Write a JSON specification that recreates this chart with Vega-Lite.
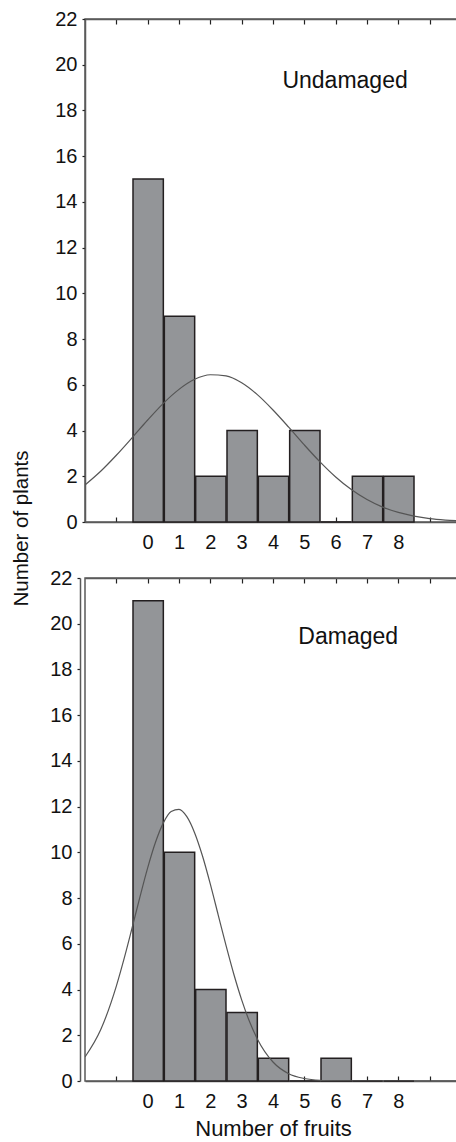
{
  "$schema": "https://vega.github.io/schema/vega-lite/v6.json",
  "padding": {"left": 10, "top": 8, "right": 0, "bottom": 0},
  "spacing": 56,
  "bounds": "flush",
  "config": {
    "font": "Liberation Sans",
    "view": {"stroke": "#5a5a5a", "strokeWidth": 1.5},
    "axis": {
      "grid": false,
      "domainColor": "#5a5a5a",
      "domainWidth": 1.5,
      "tickColor": "#222222",
      "tickWidth": 1.2,
      "labelFont": "Liberation Sans",
      "labelFontSize": 20,
      "labelColor": "#111111",
      "titleFont": "Liberation Sans",
      "titleFontSize": 21,
      "titleFontWeight": "normal",
      "titleColor": "#111111"
    }
  },
  "datasets": {
    "undamaged": [
      {"lo": -0.5, "hi": 0.5, "n": 15},
      {"lo": 0.5, "hi": 1.5, "n": 9},
      {"lo": 1.5, "hi": 2.5, "n": 2},
      {"lo": 2.5, "hi": 3.5, "n": 4},
      {"lo": 3.5, "hi": 4.5, "n": 2},
      {"lo": 4.5, "hi": 5.5, "n": 4},
      {"lo": 5.5, "hi": 6.5, "n": 0},
      {"lo": 6.5, "hi": 7.5, "n": 2},
      {"lo": 7.5, "hi": 8.5, "n": 2}
    ],
    "damaged": [
      {"lo": -0.5, "hi": 0.5, "n": 21},
      {"lo": 0.5, "hi": 1.5, "n": 10},
      {"lo": 1.5, "hi": 2.5, "n": 4},
      {"lo": 2.5, "hi": 3.5, "n": 3},
      {"lo": 3.5, "hi": 4.5, "n": 1},
      {"lo": 4.5, "hi": 5.5, "n": 0},
      {"lo": 5.5, "hi": 6.5, "n": 1},
      {"lo": 6.5, "hi": 7.5, "n": 0},
      {"lo": 7.5, "hi": 8.5, "n": 0}
    ],
    "curveU": [
      {"x": -2, "y": 1.62}, {"x": -1.5, "y": 2.22}, {"x": -1, "y": 2.92},
      {"x": -0.5, "y": 3.68}, {"x": 0, "y": 4.46}, {"x": 0.5, "y": 5.19},
      {"x": 1, "y": 5.8}, {"x": 1.5, "y": 6.24}, {"x": 2, "y": 6.44},
      {"x": 2.5, "y": 6.39}, {"x": 3, "y": 6.09}, {"x": 3.5, "y": 5.57},
      {"x": 4, "y": 4.9}, {"x": 4.5, "y": 4.15}, {"x": 5, "y": 3.37},
      {"x": 5.5, "y": 2.63}, {"x": 6, "y": 1.97}, {"x": 6.5, "y": 1.42},
      {"x": 7, "y": 0.98}, {"x": 7.5, "y": 0.65}, {"x": 8, "y": 0.42},
      {"x": 8.5, "y": 0.26}, {"x": 9, "y": 0.15}, {"x": 9.5, "y": 0.086},
      {"x": 10, "y": 0.047}
    ],
    "curveD": [
      {"x": -2, "y": 1.05}, {"x": -1.5, "y": 2.24}, {"x": -1, "y": 4.15},
      {"x": -0.75, "y": 5.36}, {"x": -0.5, "y": 6.68}, {"x": -0.25, "y": 8.03},
      {"x": 0, "y": 9.32}, {"x": 0.25, "y": 10.44}, {"x": 0.5, "y": 11.29},
      {"x": 0.75, "y": 11.79}, {"x": 1, "y": 11.88}, {"x": 1.25, "y": 11.56},
      {"x": 1.5, "y": 10.85}, {"x": 1.75, "y": 9.84}, {"x": 2, "y": 8.61},
      {"x": 2.25, "y": 7.27}, {"x": 2.5, "y": 5.93}, {"x": 2.75, "y": 4.67},
      {"x": 3, "y": 3.55}, {"x": 3.25, "y": 2.6}, {"x": 3.5, "y": 1.84},
      {"x": 4, "y": 0.83}, {"x": 4.5, "y": 0.32}, {"x": 5, "y": 0.11},
      {"x": 5.5, "y": 0.03}, {"x": 6, "y": 0.01}, {"x": 7, "y": 0},
      {"x": 8, "y": 0}, {"x": 9, "y": 0}, {"x": 10, "y": 0}
    ]
  },
  "vconcat": [
    {
      "width": 376,
      "height": 503,
      "layer": [
        {
          "data": {"name": "undamaged"},
          "mark": {"type": "bar", "fill": "#939598", "stroke": "#231f20", "strokeWidth": 1.5},
          "encoding": {
            "x": {"field": "lo", "type": "quantitative", "bin": {"binned": true},
                  "scale": {"domain": [-2, 10], "nice": false, "zero": false},
                  "axis": {"orient": "bottom", "title": null, "values": [-1,0,1,2,3,4,5,6,7,8,9],
                           "labelExpr": "datum.value >= 0 && datum.value <= 8 ? datum.label : ''",
                           "tickSize": -5, "labelPadding": 15}},
            "x2": {"field": "hi"},
            "y": {"field": "n", "type": "quantitative",
                  "scale": {"domain": [0, 22], "nice": false},
                  "axis": {"orient": "left", "values": [0,2,4,6,8,10,12,14,16,18,20,22],
                           "tickSize": 3, "labelPadding": 5,
                           "title": "Number of plants", "titleAngle": -90, "titleFontSize": 20.5,
                           "titleX": -64, "titleY": 509, "titleAlign": "center", "titleBaseline": "middle"}}
          }
        },
        {
          "data": {"name": "curveU"},
          "mark": {"type": "line", "stroke": "#555555", "strokeWidth": 1.2, "interpolate": "monotone", "clip": true},
          "encoding": {
            "x": {"field": "x", "type": "quantitative",
                  "axis": {"orient": "top", "title": null, "labels": false, "values": [-1,0,1,2,3,4,5,6,7,8,9], "tickSize": -5}},
            "y": {"field": "y", "type": "quantitative",
                  "axis": {"orient": "right", "title": null, "labels": false, "values": [2,4,6,8,10,12,14,16,18,20], "tickSize": -5}}
          }
        },
        {
          "data": {"values": [{"label": "Undamaged"}]},
          "mark": {"type": "text", "fontSize": 23, "font": "Liberation Sans", "align": "center", "baseline": "alphabetic", "color": "#111111"},
          "encoding": {
            "text": {"field": "label"},
            "x": {"datum": 6.3, "type": "quantitative", "axis": null},
            "y": {"datum": 19.0, "type": "quantitative", "axis": null}
          }
        }
      ],
      "resolve": {"axis": {"x": "independent", "y": "independent"}}
    },
    {
      "width": 376,
      "height": 503,
      "layer": [
        {
          "data": {"name": "damaged"},
          "mark": {"type": "bar", "fill": "#939598", "stroke": "#231f20", "strokeWidth": 1.5},
          "encoding": {
            "x": {"field": "lo", "type": "quantitative", "bin": {"binned": true},
                  "scale": {"domain": [-2, 10], "nice": false, "zero": false},
                  "axis": {"orient": "bottom", "title": "Number of fruits", "titleFontSize": 22, "values": [-1,0,1,2,3,4,5,6,7,8,9],
                           "labelExpr": "datum.value >= 0 && datum.value <= 8 ? datum.label : ''",
                           "tickSize": -5, "labelPadding": 15, "titlePadding": 7}},
            "x2": {"field": "hi"},
            "y": {"field": "n", "type": "quantitative",
                  "scale": {"domain": [0, 22], "nice": false},
                  "axis": {"orient": "left", "values": [0,2,4,6,8,10,12,14,16,18,20,22],
                           "tickSize": 3, "labelPadding": 5, "offset": 5, "title": null}}
          }
        },
        {
          "data": {"name": "curveD"},
          "mark": {"type": "line", "stroke": "#555555", "strokeWidth": 1.2, "interpolate": "monotone", "clip": true},
          "encoding": {
            "x": {"field": "x", "type": "quantitative",
                  "axis": {"orient": "top", "title": null, "labels": false, "values": [-1,0,1,2,3,4,5,6,7,8,9], "tickSize": -5}},
            "y": {"field": "y", "type": "quantitative",
                  "axis": {"orient": "right", "title": null, "labels": false, "values": [2,4,6,8,10,12,14,16,18,20], "tickSize": -5}}
          }
        },
        {
          "data": {"values": [{"label": "Damaged"}]},
          "mark": {"type": "text", "fontSize": 23, "font": "Liberation Sans", "align": "center", "baseline": "alphabetic", "color": "#111111"},
          "encoding": {
            "text": {"field": "label"},
            "x": {"datum": 6.4, "type": "quantitative", "axis": null},
            "y": {"datum": 19.1, "type": "quantitative", "axis": null}
          }
        }
      ],
      "resolve": {"axis": {"x": "independent", "y": "independent"}}
    }
  ]
}
